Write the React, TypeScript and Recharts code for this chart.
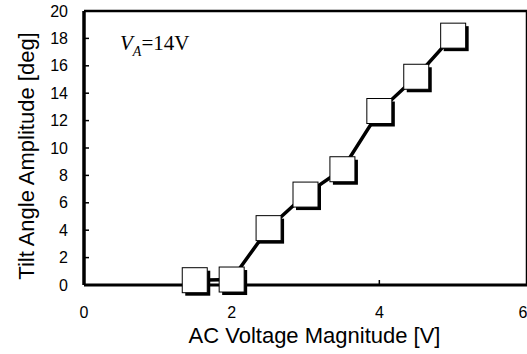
import { LineChart, Line, XAxis, YAxis, ReferenceLine, Label } from 'recharts';

const voltage = [1.5, 2, 2.5, 3, 3.5, 4, 4.5, 5];
const tiltAmplitude = [0.35, 0.4, 4.15, 6.6, 8.45, 12.7, 15.2, 18.2];
const xTicks = [0, 2, 4, 6];
const yTicks = [0, 2, 4, 6, 8, 10, 12, 14, 16, 18, 20];

const data = voltage.map((v, i) => ({ v, tilt: tiltAmplitude[i] }));

const FONT = '"Liberation Sans", Arial, sans-serif';

// white square with a black drop shadow, like the original marker
const SquareDot = (props: any) => {
  const { cx, cy, index } = props;
  if (cx == null || cy == null) return null;
  const s = 25;
  return (
    <g key={`dot-${index}`}>
      <rect x={cx - s / 2 + 3} y={cy - s / 2 + 3} width={s} height={s} fill="#000" />
      <rect x={cx - s / 2} y={cy - s / 2} width={s} height={s} fill="#fff" stroke="#000" strokeWidth={1} />
    </g>
  );
};

export default function App() {
  return (
    <div style={{ position: 'absolute', left: 0, top: 0, width: 527, height: 354, background: '#fff' }}>
      <LineChart width={527} height={354} data={data} margin={{ top: 11, right: 0, left: 0, bottom: 0 }}>
        <XAxis
          type="number"
          dataKey="v"
          domain={[0, 6]}
          ticks={xTicks}
          height={69}
          tickSize={-5}
          tickMargin={27}
          axisLine={{ stroke: '#000', strokeWidth: 3 }}
          tickLine={{ stroke: '#000', strokeWidth: 1.5 }}
          tick={{ fill: '#000', fontSize: 16, fontFamily: FONT }}
        >
          <Label
            content={({ viewBox }: any) => (
              <text
                x={viewBox.x + viewBox.width / 2 + 9}
                y={343}
                textAnchor="middle"
                fontSize={22}
                fontFamily={FONT}
                fill="#000"
              >
                AC Voltage Magnitude [V]
              </text>
            )}
          />
        </XAxis>
        <YAxis
          type="number"
          domain={[0, 20]}
          ticks={yTicks}
          width={84}
          tickSize={-5}
          tickMargin={21}
          axisLine={{ stroke: '#000', strokeWidth: 3.5 }}
          tickLine={{ stroke: '#000', strokeWidth: 1.5 }}
          tick={{ fill: '#000', fontSize: 16, fontFamily: FONT }}
        >
          <Label
            content={({ viewBox }: any) => {
              const cy = viewBox.y + viewBox.height / 2 + 8;
              return (
                <text
                  x={34}
                  y={cy}
                  transform={`rotate(-90 34 ${cy})`}
                  textAnchor="middle"
                  fontSize={22}
                  fontFamily={FONT}
                  fill="#000"
                >
                  Tilt Angle Amplitude [deg]
                </text>
              );
            }}
          />
        </YAxis>
        <ReferenceLine y={20} stroke="#000" strokeWidth={2.5} />
        <ReferenceLine x={6} stroke="#000" strokeWidth={2.5} />
        <Line
          type="linear"
          dataKey="tilt"
          stroke="#000"
          strokeWidth={3.5}
          dot={SquareDot}
          activeDot={false}
          isAnimationActive={false}
        />
      </LineChart>
      <svg
        width={527}
        height={354}
        style={{ position: 'absolute', left: 0, top: 0, pointerEvents: 'none' }}
      >
        <text x={120} y={50} fontFamily='"Liberation Serif", "Times New Roman", serif' fontSize={21} fill="#000">
          <tspan fontStyle="italic">V</tspan>
          <tspan fontStyle="italic" fontSize={14} dy={6}>A</tspan>
          <tspan dy={-6}>=14V</tspan>
        </text>
      </svg>
    </div>
  );
}
